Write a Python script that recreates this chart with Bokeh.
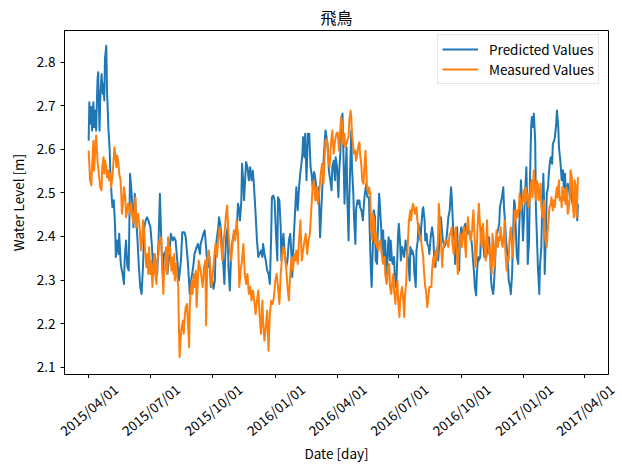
import numpy as np
from bokeh.plotting import figure
from bokeh.layouts import column
from bokeh.models import Range1d, FixedTicker
from bokeh.core.properties import value
from bokeh.embed import file_html
from bokeh.resources import INLINE

FONT = "Noto Sans CJK JP"

title_text = "飛鳥"
x_axis_title = "Date [day]"
y_axis_title = "Water Level [m]"
start_date = "2015-04-01"
x_tick_labels = ["2015/04/01", "2015/07/01", "2015/10/01", "2016/01/01", "2016/04/01",
                 "2016/07/01", "2016/10/01", "2017/01/01", "2017/04/01"]
y_ticks = [2.1, 2.2, 2.3, 2.4, 2.5, 2.6, 2.7, 2.8]

# Predicted values: day offset from 2015/04/01 and water level [m]
predicted_days = [
    0, 1, 2, 4, 5, 7, 8, 10, 11, 13,
    14, 16, 17, 19, 21, 22, 23, 24, 26, 27,
    28, 29, 31, 32, 34, 35, 37, 39, 40, 42,
    44, 45, 47, 48, 50, 52, 53, 55, 57, 59,
    61, 63, 65, 66, 68, 70, 72, 74, 76, 78,
    80, 82, 84, 86, 88, 91, 93, 95, 97, 99,
    101, 103, 105, 107, 109, 111, 114, 116, 119, 121,
    124, 126, 128, 131, 133, 136, 138, 141, 143, 146,
    149, 151, 154, 156, 159, 161, 164,
    165, 169, 171, 173, 174, 176, 178, 180, 182, 184,
    186, 187, 189, 191, 192, 194, 196, 198, 200, 201,
    203, 205, 206, 208, 210, 212, 214, 216, 218, 220,
    222, 223, 225, 226, 228, 229, 231, 232, 234, 236,
    238, 240, 242, 244, 246, 248, 250, 252, 254, 256,
    257, 259, 261, 263, 265, 267, 269, 270, 272, 274,
    276, 278, 279, 281, 283, 284, 286, 287, 289, 291,
    293, 295, 297, 299, 300, 302, 303, 305, 306, 308,
    309, 310, 312, 313, 315, 316, 318, 319, 321, 323,
    325, 327, 329, 330, 332, 333, 335, 337, 339, 341,
    343, 345, 347, 349,
    352, 354, 356, 358, 359, 361, 363, 364, 366, 368,
    369, 371, 372, 374, 375, 377, 378, 380, 381, 383,
    384, 386, 387, 388, 390, 391, 393, 394, 396, 397,
    399, 400, 402, 404, 406, 407, 409, 410, 411, 413,
    414, 416, 417, 419, 420, 422, 423, 425, 426, 428,
    429, 431, 432, 434, 435, 437, 438, 439, 441, 442,
    444, 445, 447, 448, 450, 451, 453, 454, 456, 457,
    459, 460, 462, 463, 465, 467, 469, 471, 473, 474,
    476, 477, 479, 480, 482, 483, 485, 486, 488, 489,
    490, 492, 493, 495, 496, 498, 499, 501, 502, 504,
    506, 508, 509, 511, 512, 514, 515, 516, 518, 519,
    521, 522, 524, 526, 528, 530, 532, 534,
    535, 537, 539, 540, 541, 543, 544, 546, 547, 549,
    550, 552, 553, 555, 556, 558, 559, 561, 562, 564,
    565, 566, 568, 569, 571, 572, 574, 575, 577, 578,
    580, 581, 583, 584, 586, 587, 589, 590, 592, 593,
    594, 596, 597, 599, 600, 602, 603, 605, 606, 608,
    609, 611, 612, 614, 615, 617, 618, 619, 621, 622,
    624, 625, 627, 628, 630, 631, 633, 634, 636, 637,
    639, 640, 642, 643, 645, 646, 647, 649, 650, 652,
    653, 655, 656, 658, 659, 661, 662, 664, 665, 667,
    668, 670, 671, 672, 674, 675, 677, 678, 680, 681,
    683, 684, 686, 687, 689, 690, 692, 693, 695, 696,
    697, 699, 700, 702, 703, 705, 706, 708, 709, 711,
    712, 714, 715, 717, 718, 720, 721,
]
predicted_values = [
    2.620, 2.708, 2.659, 2.697, 2.643, 2.708, 2.651, 2.689, 2.643, 2.758,
    2.777, 2.643, 2.712, 2.773, 2.727, 2.750, 2.712, 2.808, 2.838, 2.735,
    2.697, 2.651, 2.597, 2.544, 2.490, 2.467, 2.483, 2.421, 2.353, 2.391,
    2.360, 2.406, 2.345, 2.330, 2.314, 2.291, 2.345, 2.391, 2.330, 2.322,
    2.544, 2.506, 2.452, 2.421, 2.498, 2.444, 2.391, 2.330, 2.284, 2.268,
    2.330, 2.421, 2.437, 2.444, 2.437, 2.421, 2.383, 2.330, 2.360, 2.322,
    2.314, 2.391, 2.498, 2.391, 2.314, 2.360, 2.368, 2.314, 2.360, 2.406,
    2.391, 2.398, 2.391, 2.337, 2.299, 2.345, 2.410, 2.410, 2.398, 2.345,
    2.268, 2.299, 2.330, 2.360, 2.375, 2.383, 2.360,
    2.383, 2.406, 2.414, 2.376, 2.353, 2.330, 2.353, 2.284, 2.299, 2.280,
    2.299, 2.368, 2.398, 2.421, 2.444, 2.429, 2.391, 2.345, 2.291, 2.345,
    2.406, 2.421, 2.330, 2.276, 2.360, 2.391, 2.406, 2.414, 2.406, 2.475,
    2.460, 2.437, 2.483, 2.567, 2.521, 2.483, 2.544, 2.571, 2.559, 2.529,
    2.559, 2.529, 2.551, 2.506, 2.452, 2.391, 2.353, 2.360, 2.368, 2.353,
    2.383, 2.360, 2.345, 2.322, 2.314, 2.291, 2.406, 2.490, 2.494, 2.483,
    2.406, 2.345, 2.490, 2.483, 2.421, 2.345, 2.391, 2.406, 2.360, 2.330,
    2.345, 2.391, 2.406, 2.353, 2.307, 2.391, 2.421, 2.483, 2.513, 2.460,
    2.483, 2.513, 2.548, 2.559, 2.590, 2.628, 2.582, 2.636, 2.529, 2.636,
    2.636, 2.559, 2.536, 2.513, 2.548, 2.544, 2.521, 2.483, 2.513, 2.398,
    2.467, 2.536, 2.597, 2.643,
    2.613, 2.552, 2.529, 2.506, 2.559, 2.574, 2.529, 2.582, 2.559, 2.490,
    2.544, 2.597, 2.666, 2.682, 2.620, 2.475, 2.529, 2.605, 2.498, 2.391,
    2.483, 2.590, 2.643, 2.559, 2.498, 2.444, 2.383, 2.460, 2.483, 2.475,
    2.483, 2.467, 2.460, 2.437, 2.483, 2.498, 2.521, 2.498, 2.490, 2.490,
    2.421, 2.314, 2.284, 2.391, 2.460, 2.444, 2.345, 2.337, 2.406, 2.498,
    2.475, 2.421, 2.360, 2.414, 2.345, 2.391, 2.330, 2.299, 2.376, 2.398,
    2.345, 2.391, 2.345, 2.337, 2.353, 2.314, 2.284, 2.314, 2.406, 2.429,
    2.383, 2.345, 2.376, 2.368, 2.353, 2.391, 2.368, 2.345, 2.299, 2.376,
    2.360, 2.368, 2.353, 2.314, 2.284, 2.368, 2.391, 2.429, 2.406, 2.391,
    2.421, 2.460, 2.467, 2.437, 2.391, 2.406, 2.383, 2.376, 2.360, 2.398,
    2.421, 2.398, 2.353, 2.330, 2.353, 2.376, 2.345, 2.368, 2.414, 2.444,
    2.406, 2.391, 2.376, 2.383, 2.406, 2.444, 2.460, 2.513,
    2.490, 2.421, 2.391, 2.337, 2.391, 2.421, 2.360, 2.322, 2.391, 2.421,
    2.398, 2.414, 2.421, 2.429, 2.414, 2.406, 2.421, 2.414, 2.398, 2.391,
    2.376, 2.353, 2.314, 2.284, 2.265, 2.314, 2.353, 2.345, 2.353, 2.406,
    2.421, 2.391, 2.353, 2.360, 2.353, 2.368, 2.383, 2.398, 2.345, 2.299,
    2.284, 2.268, 2.284, 2.345, 2.391, 2.406, 2.414, 2.429, 2.467, 2.483,
    2.490, 2.513, 2.467, 2.421, 2.391, 2.360, 2.330, 2.299, 2.284, 2.268,
    2.314, 2.391, 2.483, 2.475, 2.391, 2.353, 2.337, 2.406, 2.483, 2.529,
    2.444, 2.391, 2.460, 2.498, 2.559, 2.483, 2.337, 2.391, 2.506, 2.651,
    2.674, 2.651, 2.682, 2.620, 2.467, 2.376, 2.330, 2.268, 2.330, 2.376,
    2.444, 2.544, 2.483, 2.314, 2.421, 2.498, 2.513, 2.544, 2.574, 2.582,
    2.567, 2.613, 2.620, 2.628, 2.659, 2.689, 2.651, 2.605, 2.574, 2.552,
    2.529, 2.552, 2.513, 2.544, 2.475, 2.513, 2.521, 2.506, 2.490, 2.529,
    2.483, 2.467, 2.483, 2.513, 2.483, 2.437, 2.475,
]

# Measured values: day offset from 2015/04/01 and water level [m]
measured_days = [
    0, 1, 2, 4, 5, 7, 8, 10, 11, 13,
    14, 16, 17, 19, 20, 22, 23, 24, 26, 27,
    29, 30, 32, 33, 35, 36, 38, 39, 41, 42,
    44, 45, 47, 48, 49, 51, 52, 54, 55, 57,
    58, 60, 61, 63, 64, 66, 67, 69, 70, 72,
    73, 75, 76, 77, 79, 80, 82, 83, 85, 86,
    88, 89, 91, 92, 94, 95, 97, 98, 100, 101,
    103, 104, 105, 107, 108, 110, 111, 113, 114, 116,
    117, 119, 120, 122, 123, 125, 126, 127, 129, 130,
    132, 133, 134, 136, 137, 139, 140, 142, 143, 145,
    146, 148, 149, 150, 152, 153, 155, 156, 158, 159,
    161, 162, 164,
    165, 168, 170, 172, 173, 175, 177, 179, 181, 183,
    185, 187, 189, 191, 193, 195, 197, 199, 201, 202,
    204, 206, 208, 210, 212, 214, 216, 218, 220, 222,
    224, 226, 228, 230, 232, 234, 236, 238, 240, 242,
    244, 246, 248, 250, 252, 254, 256, 257, 259, 261,
    263, 265, 267, 269, 271, 273, 275, 277, 279, 281,
    283, 285, 287, 289, 291, 293, 295, 297, 299, 301,
    303, 305, 306, 308, 310, 312, 314, 316, 318, 320,
    322, 324, 326, 328, 330, 332, 334, 336, 338, 340,
    342, 344, 346, 348,
    349, 351, 353, 355, 357, 359, 361, 363, 365, 367,
    369, 371, 372, 374, 375, 377, 378, 380, 381, 383,
    384, 386, 387, 388, 390, 391, 393, 394, 396, 397,
    399, 400, 402, 403, 405, 406, 408, 409, 410, 412,
    413, 415, 416, 418, 419, 421, 422, 424, 425, 427,
    428, 430, 431, 433, 434, 436, 437, 439, 440, 441,
    443, 444, 446, 447, 449, 450, 452, 453, 455, 456,
    458, 459, 460, 462, 464, 465, 466, 468, 469, 471,
    472, 474, 475, 477, 478, 480, 481, 483, 484, 485,
    487, 489, 490, 491, 493, 494, 496, 497, 499, 500,
    502, 503, 505, 506, 508, 509, 511, 512, 514, 515,
    516, 518, 519, 521, 522, 524, 526, 528, 530, 532,
    533, 535, 536, 538, 539, 541, 542, 544, 545, 547,
    548, 550, 551, 553, 554, 556, 557, 559, 560, 562,
    563, 565, 566, 567, 569, 570, 572, 573, 575, 576,
    578, 579, 581, 582, 584, 585, 587, 588, 590, 591,
    593, 594, 595, 597, 598, 600, 601, 603, 604, 606,
    607, 609, 610, 612, 613, 614, 616, 617, 619, 620,
    622, 623, 625, 626, 628, 629, 631, 632, 634, 635,
    637, 638, 640, 641, 643, 644, 646, 647, 648, 650,
    651, 653, 654, 656, 657, 659, 660, 662, 663, 665,
    666, 667, 669, 671, 672, 673, 675, 676, 678, 679,
    681, 682, 684, 685, 687, 688, 690, 691, 693, 694,
    696, 697, 698, 700, 701, 703, 704, 706, 707, 709,
    710, 712, 713, 715, 716, 718, 719, 721,
]
measured_values = [
    2.597, 2.567, 2.529, 2.517, 2.559, 2.620, 2.551, 2.605, 2.632, 2.574,
    2.559, 2.529, 2.513, 2.506, 2.559, 2.582, 2.544, 2.574, 2.559, 2.536,
    2.551, 2.529, 2.544, 2.513, 2.536, 2.559, 2.605, 2.590, 2.559, 2.586,
    2.567, 2.544, 2.529, 2.498, 2.452, 2.483, 2.513, 2.490, 2.444, 2.460,
    2.475, 2.467, 2.452, 2.475, 2.452, 2.429, 2.452, 2.490, 2.421, 2.444,
    2.452, 2.421, 2.398, 2.368, 2.391, 2.437, 2.406, 2.375, 2.330, 2.360,
    2.314, 2.375, 2.314, 2.345, 2.284, 2.322, 2.360, 2.314, 2.291, 2.345,
    2.360, 2.391, 2.383, 2.398, 2.352, 2.268, 2.314, 2.330, 2.375, 2.314,
    2.398, 2.360, 2.375, 2.322, 2.352, 2.314, 2.360, 2.299, 2.337, 2.314,
    2.284, 2.192, 2.123, 2.177, 2.192, 2.207, 2.177, 2.222, 2.238, 2.245,
    2.215, 2.146, 2.238, 2.268, 2.299, 2.268, 2.314, 2.284, 2.322, 2.238,
    2.299, 2.345, 2.330,
    2.322, 2.284, 2.330, 2.345, 2.196, 2.353, 2.368, 2.330, 2.284, 2.314,
    2.353, 2.383, 2.353, 2.398, 2.421, 2.383, 2.345, 2.391, 2.421, 2.444,
    2.471, 2.406, 2.368, 2.345, 2.383, 2.414, 2.391, 2.437, 2.406, 2.284,
    2.322, 2.345, 2.383, 2.314, 2.291, 2.314, 2.268, 2.284, 2.253, 2.276,
    2.253, 2.222, 2.253, 2.276, 2.215, 2.177, 2.253, 2.207, 2.161, 2.192,
    2.230, 2.138, 2.222, 2.253, 2.245, 2.261, 2.299, 2.314, 2.284, 2.245,
    2.314, 2.353, 2.376, 2.360, 2.330, 2.284, 2.253, 2.314, 2.353, 2.322,
    2.360, 2.345, 2.368, 2.337, 2.391, 2.437, 2.345, 2.368, 2.391, 2.406,
    2.360, 2.391, 2.406, 2.460, 2.513, 2.529, 2.483, 2.513, 2.475, 2.506,
    2.544, 2.567, 2.521, 2.590,
    2.620, 2.624, 2.582, 2.559, 2.613, 2.643, 2.590, 2.620, 2.636, 2.639,
    2.597, 2.651, 2.674, 2.651, 2.613, 2.636, 2.605, 2.613, 2.620, 2.628,
    2.666, 2.689, 2.674, 2.636, 2.605, 2.590, 2.597, 2.574, 2.590, 2.605,
    2.616, 2.590, 2.559, 2.529, 2.521, 2.552, 2.597, 2.559, 2.513, 2.498,
    2.513, 2.498, 2.421, 2.391, 2.452, 2.437, 2.383, 2.406, 2.376, 2.368,
    2.383, 2.391, 2.376, 2.345, 2.337, 2.353, 2.314, 2.291, 2.299, 2.330,
    2.337, 2.284, 2.268, 2.291, 2.314, 2.276, 2.245, 2.268, 2.299, 2.253,
    2.215, 2.253, 2.268, 2.284, 2.245, 2.215, 2.261, 2.299, 2.345, 2.406,
    2.437, 2.460, 2.437, 2.467, 2.475, 2.460, 2.452, 2.467, 2.444, 2.429,
    2.406, 2.398, 2.391, 2.376, 2.353, 2.322, 2.284, 2.276, 2.238, 2.253,
    2.284, 2.284, 2.284, 2.322, 2.353, 2.330, 2.368, 2.345, 2.360, 2.406,
    2.475, 2.421, 2.391, 2.330, 2.368, 2.383, 2.391, 2.391, 2.376, 2.406,
    2.406, 2.421, 2.383, 2.360, 2.391, 2.421, 2.376, 2.314, 2.360, 2.391,
    2.406, 2.376, 2.398, 2.421, 2.391, 2.353, 2.414, 2.444, 2.421, 2.398,
    2.391, 2.414, 2.444, 2.460, 2.383, 2.330, 2.376, 2.421, 2.475, 2.444,
    2.391, 2.376, 2.429, 2.406, 2.360, 2.345, 2.437, 2.391, 2.360, 2.376,
    2.337, 2.314, 2.406, 2.376, 2.330, 2.383, 2.414, 2.376, 2.398, 2.391,
    2.421, 2.383, 2.376, 2.406, 2.437, 2.368, 2.322, 2.353, 2.345, 2.391,
    2.421, 2.391, 2.353, 2.391, 2.460, 2.437, 2.460, 2.444, 2.467, 2.498,
    2.460, 2.475, 2.490, 2.506, 2.475, 2.513, 2.483, 2.498, 2.467, 2.483,
    2.513, 2.529, 2.490, 2.552, 2.521, 2.483, 2.529, 2.521, 2.483, 2.498,
    2.521, 2.467, 2.444, 2.483, 2.421, 2.391, 2.376, 2.406, 2.444, 2.467,
    2.475, 2.490, 2.460, 2.483, 2.467, 2.490, 2.513, 2.490, 2.529, 2.483,
    2.490, 2.467, 2.513, 2.483, 2.506, 2.475, 2.513, 2.452, 2.460, 2.490,
    2.552, 2.536, 2.483, 2.444, 2.529, 2.513, 2.444, 2.536,
]

assert len(predicted_days) == len(predicted_values), (len(predicted_days), len(predicted_values))
assert len(measured_days) == len(measured_values), (len(measured_days), len(measured_values))

DAY_MS = 86400000.0
EPOCH = np.datetime64("1970-01-01")
base = np.datetime64(start_date)
base_ms = float((base - EPOCH) / np.timedelta64(1, "ms"))


def to_dates(days):
    return base + np.array(days, dtype="timedelta64[D]")


tick_ms = [float((np.datetime64(s.replace("/", "-")) - EPOCH) / np.timedelta64(1, "ms"))
           for s in x_tick_labels]

# ---- layout constants (pixels) ----
W, H = 622, 468
BL, BR, BT = 64, 14, 30
FRAME_BOTTOM = 374
TICK_LEN = 4
H1 = FRAME_BOTTOM + TICK_LEN   # main plot: frame 30..374 + tick marks
H2 = H - H1                    # strip below holding the date labels and axis title
FRAME_W = W - BL - BR
X_START_D, X_END_D = -35.6, 766.0
Y0, Y1 = 2.0832, 2.8728
DAYS_PER_PX = (X_END_D - X_START_D) / FRAME_W

p = figure(
    width=W, height=H1,
    x_axis_type="datetime",
    output_backend="svg", toolbar_location=None,
    x_range=Range1d(base_ms + X_START_D * DAY_MS, base_ms + X_END_D * DAY_MS),
    y_range=Range1d(Y0, Y1),
    min_border_left=BL, min_border_right=BR, min_border_top=BT, min_border_bottom=H1 - FRAME_BOTTOM,
    title=title_text,
)
p.frame_align = False

p.line(to_dates(predicted_days), predicted_values, line_color="#1f77b4", line_width=2,
       line_join="round", legend_label="Predicted Values")
p.line(to_dates(measured_days), measured_values, line_color="#ff7f0e", line_width=2,
       line_join="round", legend_label="Measured Values")

p.xgrid.visible = False
p.ygrid.visible = False
p.outline_line_color = "black"
p.outline_line_width = 1
p.background_fill_color = "white"
p.border_fill_color = "white"

p.title.text_font = FONT
p.title.text_font_size = "16px"
p.title.text_font_style = "normal"
p.title.align = "center"
p.title.text_color = "black"
p.title.standoff = 3

p.xaxis.ticker = FixedTicker(ticks=tick_ms)
p.xaxis.major_label_overrides = {t: "" for t in tick_ms}
p.xaxis.major_label_text_font_size = "1px"
p.xaxis.major_label_standoff = 0
p.yaxis.ticker = FixedTicker(ticks=y_ticks)
p.yaxis.axis_label = y_axis_title

for ax in (p.xaxis[0], p.yaxis[0]):
    ax.axis_line_color = "black"
    ax.major_tick_line_color = "black"
    ax.major_tick_in = 0
    ax.major_tick_out = TICK_LEN
    ax.minor_tick_line_color = None

yax = p.yaxis[0]
yax.major_label_text_font = FONT
yax.major_label_text_font_size = "13.5px"
yax.major_label_text_color = "black"
yax.axis_label_text_font = FONT
yax.axis_label_text_font_size = "13.5px"
yax.axis_label_text_font_style = "normal"
yax.axis_label_text_color = "black"
yax.major_label_standoff = 5
yax.axis_label_standoff = 6

# legend: bottom-left corner given in frame pixels
p.legend.location = (373, FRAME_BOTTOM - 84)
p.legend.margin = 0
p.legend.padding = 4
p.legend.spacing = 0
p.legend.label_height = 16
p.legend.glyph_height = 16
p.legend.glyph_width = 36
p.legend.label_standoff = 11
p.legend.label_text_font = FONT
p.legend.label_text_font_size = "13.5px"
p.legend.label_text_color = "black"
p.legend.border_line_color = "#cccccc"
p.legend.background_fill_alpha = 0.8

# ---- strip below: rotated date labels centred on the ticks, and the x-axis title ----
s_start = X_START_D - BL * DAYS_PER_PX
s_end = X_END_D + BR * DAYS_PER_PX
p2 = figure(
    width=W, height=H2,
    output_backend="svg", toolbar_location=None,
    x_range=Range1d(base_ms + s_start * DAY_MS, base_ms + s_end * DAY_MS),
    y_range=Range1d(0, H2),
    x_axis_location=None, y_axis_location=None,
    min_border=0, min_border_left=0, min_border_right=0, min_border_top=0, min_border_bottom=0,
)
p2.frame_align = False
p2.outline_line_color = None
p2.background_fill_color = "white"
p2.border_fill_color = "white"
p2.xgrid.visible = False
p2.ygrid.visible = False

label_center_y = H2 - (409 - H1)
p2.text(x=tick_ms, y=[label_center_y] * len(tick_ms), text=x_tick_labels,
        angle=40, angle_units="deg", text_align="center", text_baseline="middle",
        text_font=value(FONT), text_font_size="13.5px", text_color="black")

axis_title_x = base_ms + 0.5 * (X_START_D + X_END_D) * DAY_MS
p2.text(x=[axis_title_x], y=[H2 - (452 - H1)], text=[x_axis_title],
        text_align="center", text_baseline="middle",
        text_font=value(FONT), text_font_size="13.5px", text_color="black")

layout = column(p, p2, spacing=0)
open("out.html", "w").write(file_html(layout, INLINE))
